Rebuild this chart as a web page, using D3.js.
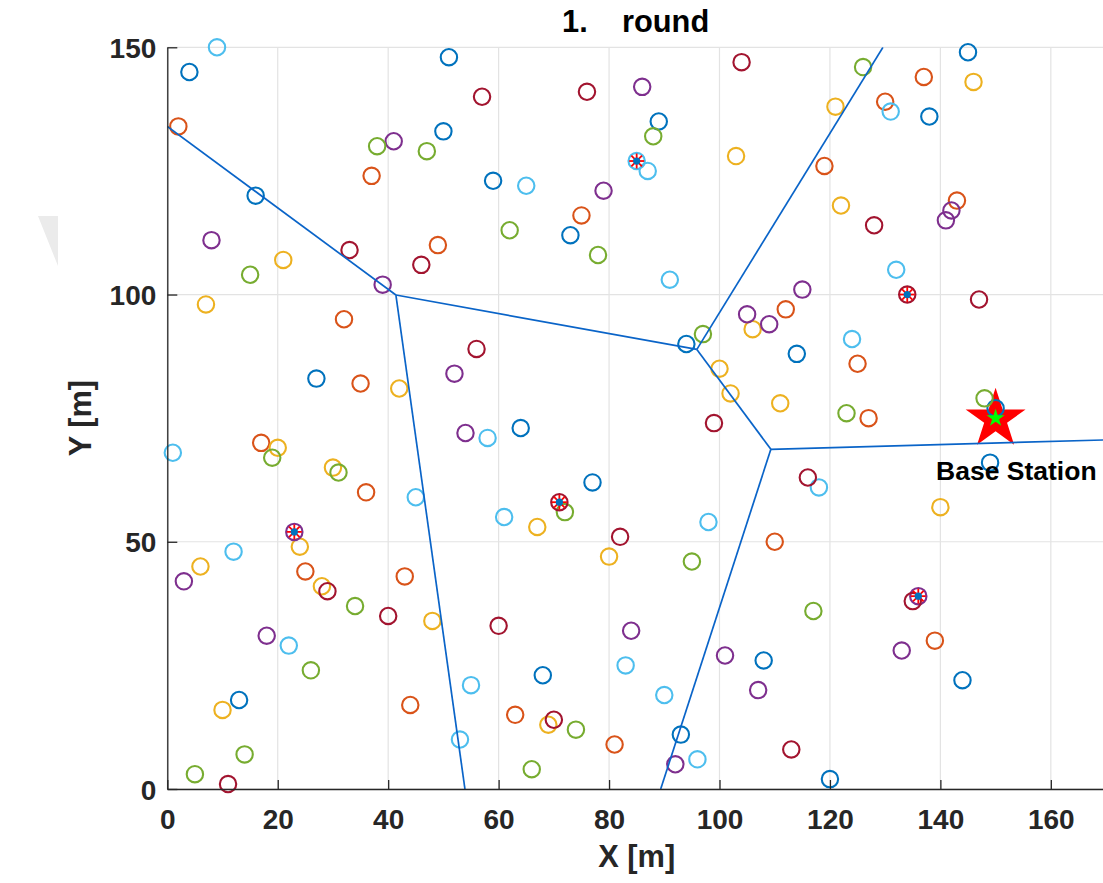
<!DOCTYPE html>
<html>
<head>
<meta charset="utf-8">
<script src="https://cdn.jsdelivr.net/npm/d3@7"></script>
<style>
  html, body { margin: 0; padding: 0; background: #ffffff; overflow: hidden; }
  text { font-family: "Liberation Sans", Arial, Helvetica, sans-serif; }
</style>
</head>
<body>
<svg id="chart" width="1103" height="883"></svg>
<script>
// ---- axis setup ----
const xDomain = [0, 170];
const yDomain = [0, 150];
const xTicks = [0, 20, 40, 60, 80, 100, 120, 140, 160];
const yTicks = [0, 50, 100, 150];
const titleText = "1.    round";
const xLabel = "X [m]";
const yLabel = "Y [m]";
const stationLabel = "Base Station";

// ---- sensor nodes, one array per plotted series (x, y in metres) ----
const nodesBlue = [[4,145],[16,120],[50,133],[51,148],[89,135],[59,123],[73,112],[94,90],[64,73],[77,62],
  [114,88],[145,149],[138,136],[150,77],[149,66],[27,83],[13,18],[68,23],[108,26],[93,11],[144,22],[120,2]];
const nodesOrange = [[2,134],[37,124],[49,110],[75,116],[130,139],[137,144],[119,126],[143,119],[32,95],[35,82],
  [112,97],[125,86],[127,75],[17,70],[36,60],[110,50],[25,44],[43,43],[139,30],[44,17],[63,15],[81,9]];
const nodesYellow = [[21,107],[7,98],[103,128],[121,138],[146,143],[122,118],[42,81],[100,85],[102,80],[106,93],
  [111,78],[140,57],[20,69],[30,65],[24,49],[67,53],[80,47],[6,45],[28,41],[48,34],[10,16],[69,13]];
const nodesPurple = [[8,111],[41,131],[39,102],[86,142],[79,121],[142,117],[141,115],[115,101],[52,84],[54,72],
  [105,96],[109,94],[3,42],[18,31],[84,32],[101,27],[107,20],[92,5],[133,28],[23,52],[136,39]];
const nodesGreen = [[38,130],[47,129],[15,104],[88,132],[62,113],[78,108],[126,146],[97,92],[123,76],[148,79],
  [19,67],[31,64],[72,56],[95,46],[34,37],[26,24],[14,7],[5,3],[117,36],[74,12],[66,4]];
const nodesCyan = [[9,150],[87,125],[65,122],[91,103],[131,137],[132,105],[124,91],[118,61],[1,68],[45,59],
  [12,48],[58,71],[61,55],[98,54],[22,29],[55,21],[53,10],[83,25],[90,19],[96,6],[85,127]];
const nodesDarkRed = [[57,140],[76,141],[104,147],[33,109],[46,106],[128,114],[147,99],[56,89],[99,74],[116,63],
  [82,51],[29,40],[40,35],[60,33],[70,14],[113,8],[11,1],[135,38],[134,100],[71,58]];

// cluster heads chosen in this round
const clusterHeads = [[85,127],[134,100],[71,58],[23,52],[136,39]];

// base station position
const baseStation = [150, 75];

// Voronoi cells around the cluster heads: vertices and the edges joining them
const voronoiVertices = [[0,134],[41.4,99.9],[95.9,88.9],[129.6,150],[109.3,68.7],[170,70.6],[89.35,0],[53.9,0]];
const voronoiEdges = [[0,1],[1,2],[2,3],[2,4],[4,5],[4,6],[1,7]];

// ---- styling ----
const seriesList = [
  { pts: nodesBlue,    color: "#0072BD" },
  { pts: nodesOrange,  color: "#D95319" },
  { pts: nodesYellow,  color: "#EDB120" },
  { pts: nodesPurple,  color: "#7E2F8E" },
  { pts: nodesGreen,   color: "#77AC30" },
  { pts: nodesCyan,    color: "#4DBEEE" },
  { pts: nodesDarkRed, color: "#A2142F" }
];

const svg = d3.select("#chart");
const plotLeft = 167.3, plotBottom = 789, plotTop = 47.3;
const pxPerUnit = 5.522;
const x = d3.scaleLinear().domain(xDomain).range([plotLeft, plotLeft + pxPerUnit * (xDomain[1] - xDomain[0])]);
const y = d3.scaleLinear().domain(yDomain).range([plotBottom, plotTop]);

// background page-curl mark on the left margin
svg.append("polygon")
  .attr("points", "38,216 58,216 58,266")
  .attr("fill", "#ebebeb");

// grid
const grid = svg.append("g").attr("class", "grid");
grid.append("g").selectAll("line").data(xTicks).join("line")
  .attr("x1", d => x(d)).attr("x2", d => x(d))
  .attr("y1", y(yDomain[0])).attr("y2", y(yDomain[1]))
  .attr("stroke", "#e3e3e3").attr("stroke-width", 1.2);
grid.append("g").selectAll("line").data(yTicks).join("line")
  .attr("x1", x(xDomain[0])).attr("x2", x(xDomain[1]))
  .attr("y1", d => y(d)).attr("y2", d => y(d))
  .attr("stroke", "#e3e3e3").attr("stroke-width", 1.2);

// clip for the cell boundaries
svg.append("clipPath").attr("id", "plotClip")
  .append("rect")
  .attr("x", x(xDomain[0])).attr("y", y(yDomain[1]))
  .attr("width", x(xDomain[1]) - x(xDomain[0]))
  .attr("height", y(yDomain[0]) - y(yDomain[1]));

// base station star (drawn beneath the nodes)
const starBig = d3.symbol().type(d3.symbolStar).size(31.5 * 31.5 / 0.8908130915292852);
const starSmall = d3.symbol().type(d3.symbolStar).size(9.5 * 9.5 / 0.8908130915292852);
svg.append("path")
  .attr("d", starBig())
  .attr("transform", `translate(${x(baseStation[0])},${y(baseStation[1]) + 1})`)
  .attr("fill", "#ff0000");

// nodes
const nodeLayer = svg.append("g");
seriesList.forEach(s => {
  nodeLayer.append("g").selectAll("circle").data(s.pts).join("circle")
    .attr("cx", d => x(d[0])).attr("cy", d => y(d[1]))
    .attr("r", 8.2)
    .attr("fill", "none")
    .attr("stroke", s.color)
    .attr("stroke-width", 2.1);
});

// cluster heads: red asterisk with a blue dot
const chLayer = svg.append("g");
const armAngles = [0, 45, 90, 135];
clusterHeads.forEach(c => {
  const g = chLayer.append("g").attr("transform", `translate(${x(c[0])},${y(c[1])})`);
  g.selectAll("line").data(armAngles).join("line")
    .attr("x1", a => -7.5 * Math.cos(a * Math.PI / 180))
    .attr("y1", a => -7.5 * Math.sin(a * Math.PI / 180))
    .attr("x2", a => 7.5 * Math.cos(a * Math.PI / 180))
    .attr("y2", a => 7.5 * Math.sin(a * Math.PI / 180))
    .attr("stroke", "#ff0000").attr("stroke-width", 1.8);
  g.append("circle").attr("r", 3.6).attr("fill", "#0072BD");
});

// inner green star of the base station
svg.append("path")
  .attr("d", starSmall())
  .attr("transform", `translate(${x(baseStation[0])},${y(baseStation[1])})`)
  .attr("fill", "#00ff00");

// Voronoi boundaries
svg.append("g").attr("clip-path", "url(#plotClip)")
  .selectAll("line").data(voronoiEdges).join("line")
  .attr("x1", e => x(voronoiVertices[e[0]][0]))
  .attr("y1", e => y(voronoiVertices[e[0]][1]))
  .attr("x2", e => x(voronoiVertices[e[1]][0]))
  .attr("y2", e => y(voronoiVertices[e[1]][1]))
  .attr("stroke", "#0a64c8").attr("stroke-width", 1.7);

// axes
const axisColor = "#262626";
const xAxis = d3.axisBottom(x).tickValues(xTicks).tickSizeInner(-9).tickSizeOuter(0).tickFormat(d3.format("d"));
const yAxis = d3.axisLeft(y).tickValues(yTicks).tickSizeInner(-10).tickSizeOuter(0).tickFormat(d3.format("d"));

const gx = svg.append("g").attr("transform", `translate(0,${plotBottom})`).call(xAxis);
const gy = svg.append("g").attr("transform", `translate(${plotLeft},0)`).call(yAxis);
[gx, gy].forEach(g => {
  g.select(".domain").attr("stroke", axisColor).attr("stroke-width", 1.3);
  g.selectAll(".tick line").attr("stroke", axisColor).attr("stroke-width", 1.3);
  g.selectAll(".tick text")
    .attr("fill", axisColor)
    .style("font-family", "'Liberation Sans', Arial, sans-serif")
    .style("font-size", "28px")
    .style("font-weight", "bold");
});
gx.selectAll(".tick text").attr("y", 20).attr("dy", "0.71em");
gy.selectAll(".tick text").attr("x", -11).attr("dy", "0.36em");

// labels
svg.append("text")
  .attr("x", (x(xDomain[0]) + x(xDomain[1])) / 2).attr("y", 867)
  .attr("text-anchor", "middle")
  .attr("fill", axisColor)
  .style("font-size", "30.8px").style("font-weight", "bold")
  .text(xLabel);

svg.append("text")
  .attr("transform", `translate(91,${(y(yDomain[0]) + y(yDomain[1])) / 2}) rotate(-90)`)
  .attr("text-anchor", "middle")
  .attr("fill", axisColor)
  .style("font-size", "30.8px").style("font-weight", "bold")
  .text(yLabel);

svg.append("text")
  .attr("x", (x(xDomain[0]) + x(xDomain[1])) / 2 - 1).attr("y", 32)
  .attr("text-anchor", "middle")
  .attr("fill", "#000000")
  .attr("xml:space", "preserve")
  .style("white-space", "pre")
  .style("font-size", "30.8px").style("font-weight", "bold")
  .text(titleText);

svg.append("text")
  .attr("x", x(baseStation[0]) - 59.5).attr("y", 480)
  .attr("fill", "#000000")
  .style("font-size", "26.5px").style("font-weight", "bold")
  .text(stationLabel);
</script>
</body>
</html>
